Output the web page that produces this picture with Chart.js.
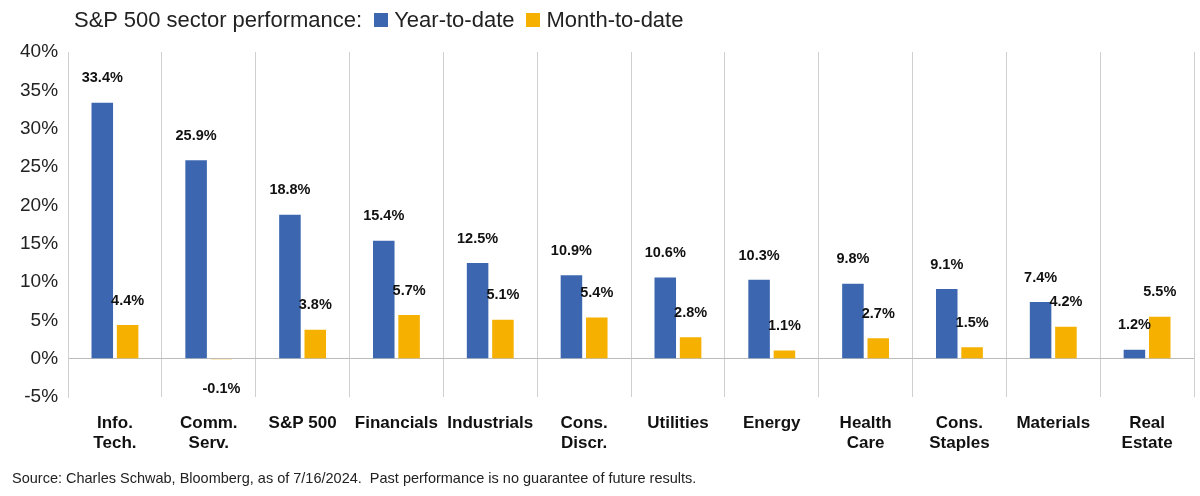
<!DOCTYPE html>
<html><head><meta charset="utf-8">
<script src="https://cdn.jsdelivr.net/npm/chart.js@4"></script>
<style>
body{margin:0;background:#fff;font-family:"Liberation Sans",Arial,sans-serif;}
#wrap{position:relative;width:1200px;height:496px;}
#head{position:absolute;left:74px;top:7px;font-size:22px;color:#222;display:flex;align-items:center;white-space:nowrap;}
.sw{display:inline-block;width:14px;height:14px;margin:0 6px 0 12px;}
#src{position:absolute;left:12px;top:470px;font-size:14.5px;color:#222;}
</style></head><body>
<div id="wrap">
<div id="head">S&amp;P 500 sector performance:<span class="sw" style="background:#3c67b0"></span>Year-to-date<span class="sw" style="background:#f5b000"></span>Month-to-date</div>
<canvas id="c" width="1200" height="496"></canvas>
<div id="src">Source: Charles Schwab, Bloomberg, as of 7/16/2024.&nbsp; Past performance is no guarantee of future results.</div>
</div>
<script>
const categories = [['Info.','Tech.'],['Comm.','Serv.'],'S&P 500','Financials','Industrials',['Cons.','Discr.'],'Utilities','Energy',['Health','Care'],['Cons.','Staples'],'Materials',['Real','Estate']];
const ytd = [33.4,25.9,18.8,15.4,12.5,10.9,10.6,10.3,9.8,9.1,7.4,1.2];
const mtd = [4.4,-0.1,3.8,5.7,5.1,5.4,2.8,1.1,2.7,1.5,4.2,5.5];

const labelPlugin = {
  id:'vals',
  afterDatasetsDraw(chart){
    const ctx = chart.ctx;
    ctx.save();
    ctx.font = 'bold 14.5px "Liberation Sans", Arial, sans-serif';
    ctx.fillStyle = '#111';
    ctx.textAlign = 'center';
    chart.data.datasets.forEach((ds,i)=>{
      chart.getDatasetMeta(i).data.forEach((bar,j)=>{
        const v = ds.data[j];
        const t = v.toFixed(1)+'%';
        if (v >= 0) { ctx.textBaseline='bottom'; ctx.fillText(t, bar.x, bar.y - 17); }
        else { ctx.textBaseline='top'; ctx.fillText(t, bar.x, bar.y + 22); }
      });
    });
    ctx.restore();
  }
};

new Chart(document.getElementById('c'), {
  type:'bar',
  data:{labels:categories,datasets:[
    {label:'Year-to-date',data:ytd,backgroundColor:'#3c67b0',categoryPercentage:0.54,barPercentage:0.85},
    {label:'Month-to-date',data:mtd,backgroundColor:'#f5b000',categoryPercentage:0.54,barPercentage:0.85}
  ]},
  options:{
    responsive:false,animation:false,
    layout:{padding:{top:52,right:6,bottom:26,left:10}},
    plugins:{legend:{display:false},tooltip:{enabled:false}},
    scales:{
      x:{grid:{display:true,offset:true,color:'#d0d0d0',drawTicks:false},border:{display:false},
         ticks:{color:'#111',font:{size:17,weight:'bold',family:'"Liberation Sans", Arial, sans-serif'},padding:16,autoSkip:false,maxRotation:0}},
      y:{min:-5,max:40,grid:{display:true,drawTicks:false,color:c=>c.tick.value===0?'#bbb':'transparent'},
         border:{display:true,color:'#d0d0d0'},
         ticks:{stepSize:5,padding:10,color:'#222',callback:v=>v+'%',font:{size:19,family:'"Liberation Sans", Arial, sans-serif'}}}
    }
  },
  plugins:[labelPlugin]
});
</script>
</body></html>
